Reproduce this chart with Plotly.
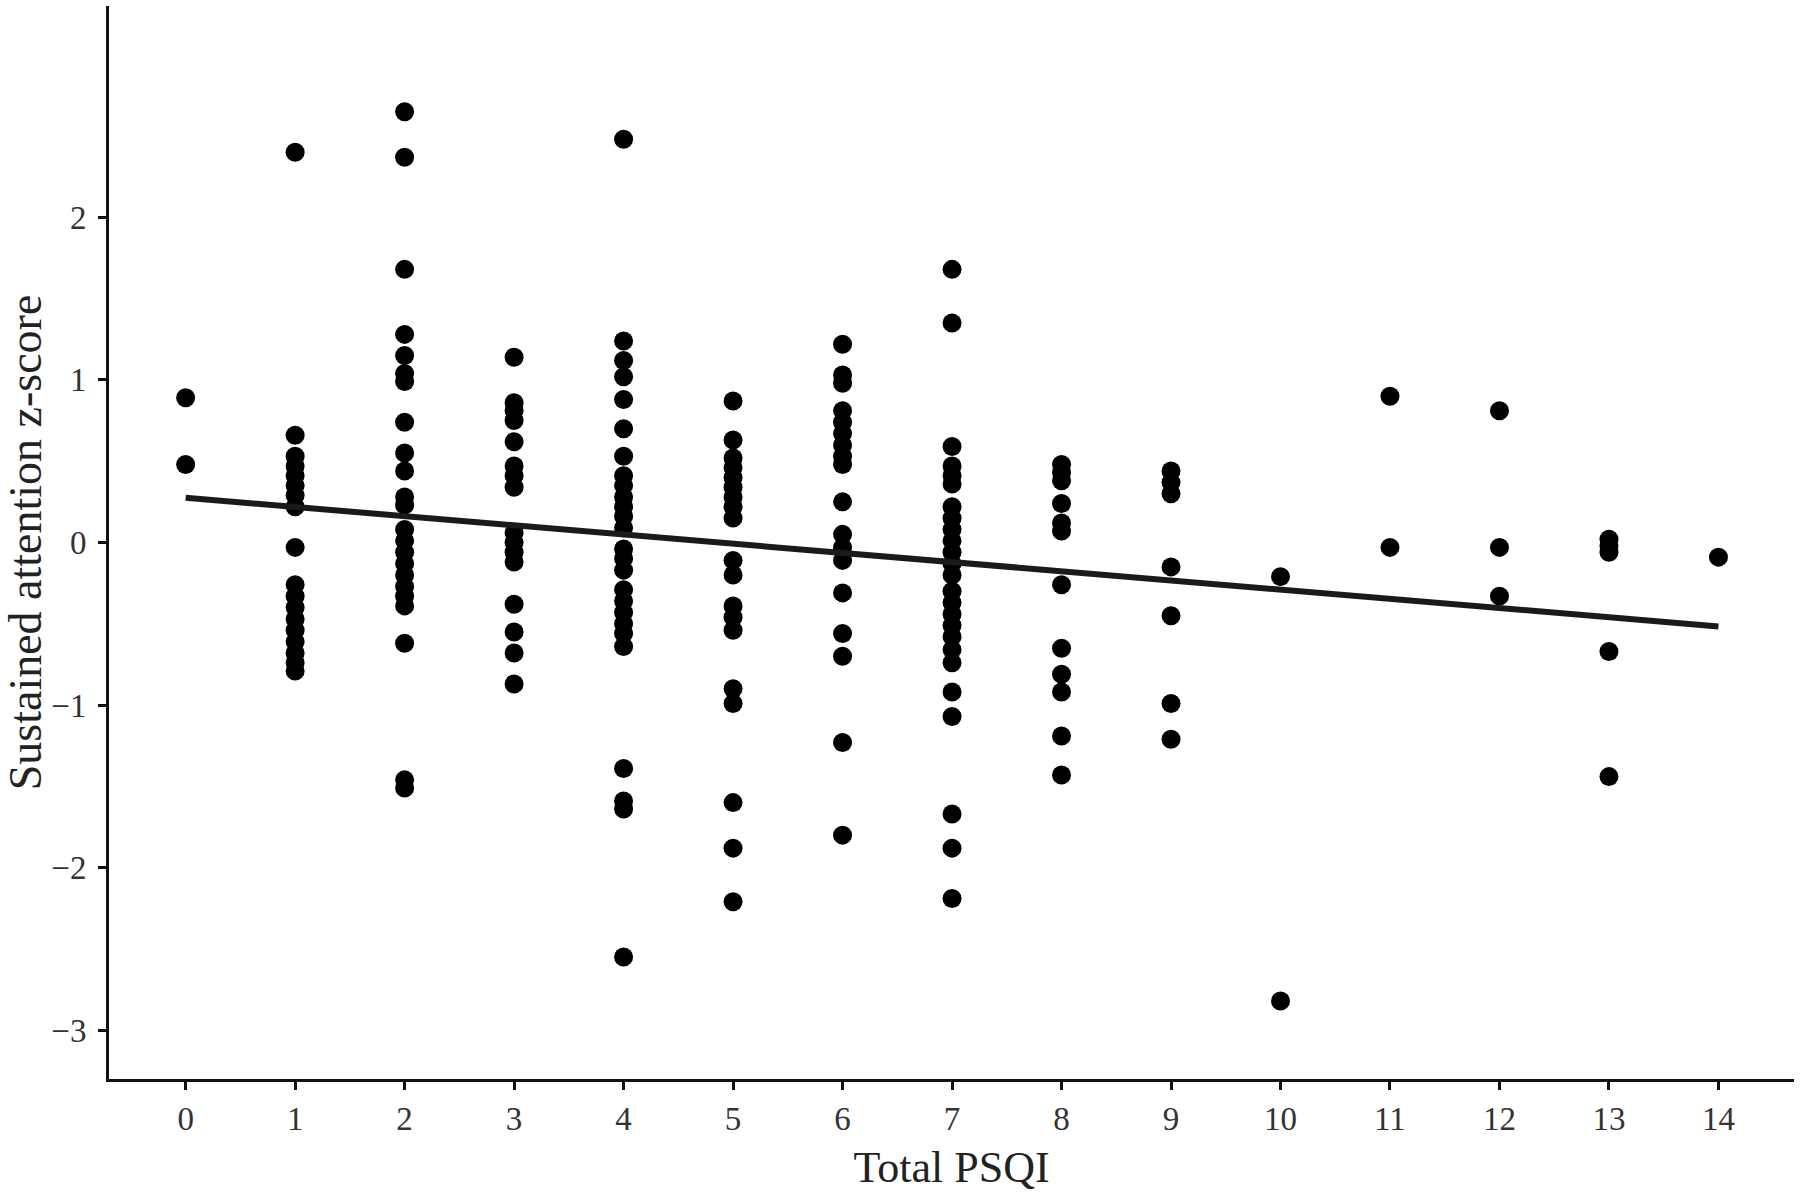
import plotly.graph_objects as go

# Sustained attention z-scores, one list per Total PSQI score
z_psqi0 = [0.89, 0.48]
z_psqi1 = [2.40, 0.66, 0.53, 0.47, 0.41, 0.35, 0.29, 0.22, -0.03, -0.26, -0.33,
           -0.40, -0.47, -0.54, -0.61, -0.68, -0.74, -0.79]
z_psqi2 = [2.65, 2.37, 1.68, 1.28, 1.15, 1.04, 0.99, 0.74, 0.55, 0.44, 0.28, 0.23,
           0.08, 0.01, -0.06, -0.13, -0.20, -0.27, -0.33, -0.39, -0.62, -1.46, -1.51]
z_psqi3 = [1.14, 0.86, 0.81, 0.75, 0.62, 0.47, 0.41, 0.34, 0.06, 0.00, -0.06,
           -0.12, -0.38, -0.55, -0.68, -0.87]
z_psqi4 = [2.48, 1.24, 1.12, 1.02, 0.88, 0.70, 0.53, 0.41, 0.35, 0.28, 0.22, 0.16,
           0.09, -0.04, -0.10, -0.17, -0.29, -0.36, -0.43, -0.50, -0.56, -0.64,
           -1.39, -1.59, -1.64, -2.55]
z_psqi5 = [0.87, 0.63, 0.52, 0.46, 0.40, 0.34, 0.28, 0.22, 0.15, -0.11, -0.20,
           -0.39, -0.46, -0.54, -0.90, -0.99, -1.60, -1.88, -2.21]
z_psqi6 = [1.22, 1.03, 0.98, 0.81, 0.74, 0.67, 0.60, 0.53, 0.48, 0.25, 0.05,
           -0.03, -0.11, -0.31, -0.56, -0.70, -1.23, -1.80]
z_psqi7 = [1.68, 1.35, 0.59, 0.47, 0.41, 0.36, 0.22, 0.15, 0.08, 0.01, -0.06,
           -0.13, -0.20, -0.30, -0.37, -0.44, -0.51, -0.58, -0.66, -0.74, -0.92,
           -1.07, -1.67, -1.88, -2.19]
z_psqi8 = [0.48, 0.43, 0.38, 0.24, 0.12, 0.07, -0.26, -0.65, -0.81, -0.92, -1.19, -1.43]
z_psqi9 = [0.44, 0.37, 0.30, -0.15, -0.45, -0.99, -1.21]
z_psqi10 = [-0.21, -2.82]
z_psqi11 = [0.90, -0.03]
z_psqi12 = [0.81, -0.03, -0.33]
z_psqi13 = [0.02, -0.02, -0.06, -0.67, -1.44]
z_psqi14 = [-0.09]

# Regression line
fit_x = [0, 14]
fit_intercept = 0.275
fit_slope = -0.0565

x_ticks = list(range(15))
y_ticks = [-3, -2, -1, 0, 1, 2]

columns = [z_psqi0, z_psqi1, z_psqi2, z_psqi3, z_psqi4, z_psqi5, z_psqi6, z_psqi7,
           z_psqi8, z_psqi9, z_psqi10, z_psqi11, z_psqi12, z_psqi13, z_psqi14]
xs, ys = [], []
for score, vals in zip(x_ticks, columns):
    xs += [score] * len(vals)
    ys += vals

fit_y = [fit_intercept + fit_slope * v for v in fit_x]

fig = go.Figure()
fig.add_trace(go.Scatter(
    x=xs, y=ys, mode="markers",
    marker=dict(size=19, color="black", line=dict(width=0)),
    showlegend=False,
))
fig.add_trace(go.Scatter(
    x=fit_x, y=fit_y, mode="lines",
    line=dict(color="#1a1a1a", width=6),
    showlegend=False,
))

font_family = "Liberation Serif"
fig.update_layout(
    width=1800, height=1193,
    margin=dict(l=109, r=6, t=6, b=114),
    paper_bgcolor="white", plot_bgcolor="white",
    font=dict(family=font_family, color="#222"),
)
fig.update_xaxes(
    range=[-0.7, 14.69], tickvals=x_ticks,
    showgrid=False, zeroline=False,
    showline=True, linecolor="#111", linewidth=3,
    ticks="outside", ticklen=8, tickwidth=3, tickcolor="#111",
    tickfont=dict(size=33, family=font_family, color="#333"),
    title=dict(text="Total PSQI", font=dict(size=44, family=font_family, color="#222"),
               standoff=16),
)
fig.update_yaxes(
    range=[-3.3, 3.3], tickvals=y_ticks,
    showgrid=False, zeroline=False,
    showline=True, linecolor="#111", linewidth=3,
    ticks="outside", ticklen=8, tickwidth=3, tickcolor="#111",
    ticklabelstandoff=5,
    tickfont=dict(size=33, family=font_family, color="#333"),
    title=dict(text="Sustained attention z-score",
               font=dict(size=46, family=font_family, color="#222"), standoff=10),
)

# drop the browser's default body margin so the figure sits at the page corner
fig.write_html("out.html", config={"displayModeBar": False},
               post_script="document.body.style.margin='0';")
